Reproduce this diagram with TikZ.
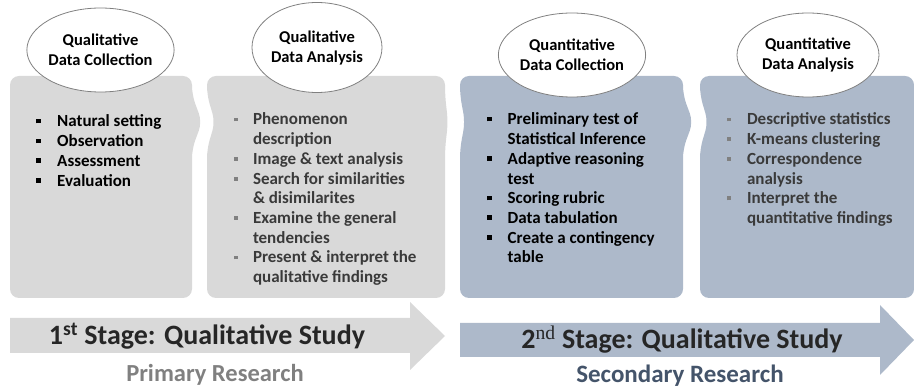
\documentclass[tikz,border=0pt]{standalone}
\usepackage{fontspec}
\setmainfont{Carlito}
\newfontfamily\supfont{Liberation Serif}
\usetikzlibrary{shapes.geometric}
\definecolor{boxgray}{HTML}{D9D9D9}
\definecolor{boxblue}{HTML}{ADB9CA}
\definecolor{txtdark}{HTML}{3A3A3A}
\definecolor{txtgray}{HTML}{808080}
\definecolor{txtblue}{HTML}{44546A}
\definecolor{rimgray}{HTML}{808080}
\newcommand{\sqb}{\rule[3.5pt]{4.5pt}{4.5pt}}
\newcommand{\sqg}{\textcolor{txtgray}{\rule[3.5pt]{3.8pt}{3.8pt}}}

\begin{document}
\begin{tikzpicture}[x=1pt,y=-1pt,
  phase/.style={draw=rimgray, line width=0.8pt, fill=white, ellipse, align=center,
    font=\fontsize{16.5}{20}\selectfont\bfseries},
  items/.style={anchor=base west, font=\fontsize{17}{19.7}\selectfont\bfseries},
  stage/.style={anchor=base, font=\fontsize{28}{32}\selectfont\bfseries}]
\tikzstyle{every node}+=[inner sep=0pt]
\useasboundingbox (0,0) rectangle (914,387);
\fill [boxgray, rounded corners=9] (10,298) -- (10,76) -- (192,76) -- (192,95) -- (202,122) -- (192,149) -- (192,298) -- cycle;
\fill [boxgray, rounded corners=9] (207,298) -- (207,149) -- (215,122) -- (207,95) -- (207,76) -- (445,76) -- (445,95) -- (448,122) -- (445,149) -- (445,298) -- cycle;
\fill [boxblue, rounded corners=9] (460,298) -- (460,149) -- (465,122) -- (460,95) -- (460,76) -- (683,76) -- (683,95) -- (693,122) -- (683,149) -- (683,298) -- cycle;
\fill [boxblue, rounded corners=9] (700,298) -- (700,149) -- (708,122) -- (700,95) -- (700,76) -- (914,76) -- (914,298) -- cycle;
\node [phase, minimum width=135, minimum height=84] (qlcol) at (100.5,50) {Qualitative\\Data Collection};
\node [phase, minimum width=130, minimum height=90] (qlana) at (317,47.5) {Qualitative\\Data Analysis};
\node [phase, minimum width=144, minimum height=84] (qncol) at (572,55) {Quantitative\\Data Collection};
\node [phase, minimum width=142, minimum height=84] (qnana) at (808,55) {Quantitative\\Data Analysis};
\node [items] (qlcollist) at (36,127) {\begin{tabular}[t]{@{}l@{\hspace{16.5pt}}l@{}}
\sqb & Natural setting\\ \sqb & Observation\\ \sqb & Assessment\\ \sqb & Evaluation
\end{tabular}};
\node [items, text=txtdark] (qlanalist) at (234,125) {\begin{tabular}[t]{@{}l@{\hspace{15pt}}l@{}}
\sqg & Phenomenon\\ & description\\ \sqg & Image \& text analysis\\ \sqg & Search for similarities\\
 & \& disimilarites\\ \sqg & Examine the general\\ & tendencies\\ \sqg & Present \& interpret the\\
 & qualitative findings
\end{tabular}};
\node [items] (qncollist) at (487,125) {\begin{tabular}[t]{@{}l@{\hspace{16pt}}l@{}}
\sqb & Preliminary test of\\ & Statistical Inference\\ \sqb & Adaptive reasoning\\ & test\\
\sqb & Scoring rubric\\ \sqb & Data tabulation\\ \sqb & Create a contingency\\ & table
\end{tabular}};
\node [items, text=txtdark] (qnanalist) at (727,125) {\begin{tabular}[t]{@{}l@{\hspace{16pt}}l@{}}
\sqg & Descriptive statistics\\ \sqg & K-means clustering\\ \sqg & Correspondence\\ & analysis\\
\sqg & Interpret the\\ & quantitative findings
\end{tabular}};
\fill [boxgray] (10,318) -- (410,318) -- (410,302) -- (445,336) -- (410,370) -- (410,353) -- (10,353) -- cycle;
\fill [boxblue] (460,323) -- (880,323) -- (880,305) -- (914,340) -- (880,375) -- (880,357) -- (460,357) -- cycle;
\node [stage, text=black!85] (stage1) at (207,345) {1\textsuperscript{st} Stage: Qualitative Study};
\node [stage, text=black!85] (stage2) at (682,349) {2\textsuperscript{\supfont\mdseries nd} Stage: Qualitative Study};
\node [stage, font=\fontsize{24.5}{28}\selectfont\bfseries, text=txtgray] (primary) at (215,382) {Primary Research};
\node [stage, font=\fontsize{25}{28}\selectfont\bfseries, text=txtblue] (secondary) at (680,383) {Secondary Research};
\end{tikzpicture}
\end{document}
